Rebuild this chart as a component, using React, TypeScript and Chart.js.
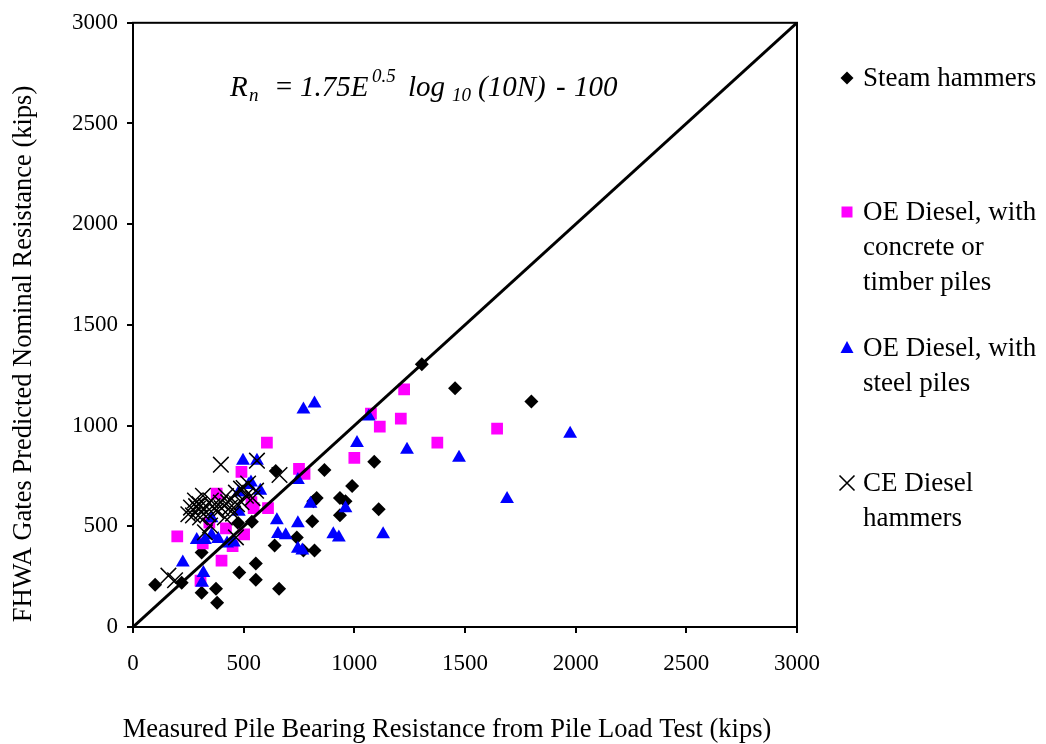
import React, { useEffect, useRef } from 'react';
import { Chart, registerables } from 'chart.js';

Chart.register(...registerables);

// ---------- data (kips) ----------
const steamHammers: [number, number][] = [
  [100, 210], [220, 220], [310, 170], [375, 190], [380, 120], [480, 270], [555, 315], [555, 235],
  [660, 190], [310, 370], [475, 517], [537, 523], [640, 405], [740, 445], [770, 380], [820, 380],
  [645, 775], [810, 525], [815, 625], [830, 640], [865, 780], [935, 640], [935, 555], [960, 625],
  [990, 700], [1090, 820], [1110, 585], [1305, 1305], [1455, 1185], [1800, 1120],
];

const oeDieselConcrete: [number, number][] = [
  [200, 450], [305, 230], [315, 415], [345, 518], [378, 662], [400, 330], [420, 490], [450, 402],
  [490, 770], [502, 460], [535, 620], [545, 590], [605, 915], [610, 590], [750, 785], [775, 760],
  [1000, 840], [1075, 1060], [1115, 995], [1210, 1035], [1225, 1180], [1375, 915], [1645, 985],
];

const oeDieselSteel: [number, number][] = [
  [225, 320], [312, 220], [318, 268], [288, 432], [325, 432], [355, 455], [355, 540], [385, 437],
  [425, 415], [455, 420], [478, 572], [478, 668], [497, 826], [522, 705], [533, 717], [560, 826],
  [575, 677], [650, 530], [655, 462], [690, 455], [745, 515], [745, 730], [745, 388], [765, 380],
  [770, 1080], [820, 1110], [802, 612], [905, 460], [930, 445], [960, 590], [1012, 914],
  [1065, 1045], [1130, 460], [1238, 880], [1473, 840], [1690, 635], [1975, 960],
];

const ceDiesel: [number, number][] = [
  [160, 255], [190, 232], [262, 593], [271, 554], [280, 628], [294, 588], [303, 544], [316, 652],
  [325, 470], [348, 504], [352, 628], [375, 578], [397, 618], [415, 544], [438, 593], [452, 563],
  [465, 667], [465, 445], [488, 687], [510, 652], [520, 712], [556, 677], [397, 806], [560, 826],
  [662, 755], [300, 610], [330, 600], [420, 650], [490, 620], [540, 640], [250, 560], [285, 600],
  [310, 570], [340, 560], [360, 600], [400, 590], [430, 620], [470, 610], [500, 690],
];

const unityLine: [number, number][] = [[0, 0], [3000, 3000]];

const axisMin = 0;
const axisMax = 3000;
const axisStep = 500;

const xTitle = 'Measured Pile Bearing Resistance from Pile Load Test (kips)';
const yTitle = 'FHWA Gates Predicted Nominal Resistance (kips)';

const legendLabels: string[][] = [
  ['Steam hammers'],
  ['OE Diesel, with', 'concrete or', 'timber piles'],
  ['OE Diesel, with', 'steel piles'],
  ['CE Diesel', 'hammers'],
];

// equation pieces: [text, kind, x position]
const equationPieces: [string, string, number][] = [
  ['R', 'm', 230], ['n', 'sub', 249], ['=', 'm', 274], ['1.75E', 'm', 300], ['0.5', 'sup', 372],
  ['log', 'm', 408], ['10', 'sub', 452], ['(10N)', 'm', 478], ['-', 'm', 556], ['100', 'm', 574],
];

const SERIF = '"Liberation Serif", "Times New Roman", serif';

const toPts = (a: [number, number][]) => a.map(([x, y]) => ({ x, y }));

function drawMarker(ctx: CanvasRenderingContext2D, kind: string, x: number, y: number, color: string) {
  ctx.save();
  ctx.fillStyle = color;
  ctx.strokeStyle = color;
  ctx.beginPath();
  if (kind === 'diamond') {
    const r = 6.5;
    ctx.moveTo(x, y - r); ctx.lineTo(x + r, y); ctx.lineTo(x, y + r); ctx.lineTo(x - r, y);
    ctx.closePath(); ctx.fill();
  } else if (kind === 'square') {
    ctx.rect(x - 5.5, y - 5.5, 11, 11); ctx.fill();
  } else if (kind === 'triangle') {
    ctx.moveTo(x, y - 7); ctx.lineTo(x + 6.5, y + 5); ctx.lineTo(x - 6.5, y + 5);
    ctx.closePath(); ctx.fill();
  } else {
    const r = 7.5;
    ctx.lineWidth = 1.6;
    ctx.moveTo(x - r, y - r); ctx.lineTo(x + r, y + r);
    ctx.moveTo(x + r, y - r); ctx.lineTo(x - r, y + r);
    ctx.stroke();
  }
  ctx.restore();
}

const overlayPlugin = {
  id: 'overlay',
  afterDraw(chart: any) {
    const ctx: CanvasRenderingContext2D = chart.ctx;
    const { left, right, top, bottom } = chart.chartArea;
    ctx.save();
    ctx.strokeStyle = '#000';
    ctx.lineWidth = 2;
    ctx.strokeRect(left, top, right - left, bottom - top);

    ctx.fillStyle = '#000';
    ctx.textBaseline = 'alphabetic';
    ctx.font = `26.5px ${SERIF}`;
    ctx.textAlign = 'center';
    ctx.fillText(xTitle, 447, 737);
    ctx.save();
    ctx.translate(31, 354);
    ctx.rotate(-Math.PI / 2);
    ctx.fillText(yTitle, 0, 0);
    ctx.restore();

    // equation
    ctx.textAlign = 'left';
    const eb = 96;
    for (const [txt, kind, px] of equationPieces) {
      if (kind === 'm') {
        ctx.font = `italic 29px ${SERIF}`;
        ctx.fillText(txt, px, eb);
      } else if (kind === 'sub') {
        ctx.font = `italic 19px ${SERIF}`;
        ctx.fillText(txt, px, eb + 5);
      } else {
        ctx.font = `italic 19px ${SERIF}`;
        ctx.fillText(txt, px, eb - 14);
      }
    }

    // legend
    const markers = ['diamond', 'square', 'triangle', 'cross'];
    const colors = ['#000000', '#FF00FF', '#0000FF', '#000000'];
    const markerY = [78, 212, 348, 483];
    ctx.font = `27px ${SERIF}`;
    legendLabels.forEach((lines, i) => {
      drawMarker(ctx, markers[i], 847, markerY[i], colors[i]);
      lines.forEach((ln, j) => {
        ctx.fillStyle = '#000';
        ctx.fillText(ln, 863, markerY[i] + 8 + j * 35);
      });
    });
    ctx.restore();
  },
};

export default function App() {
  const ref = useRef<HTMLCanvasElement | null>(null);

  useEffect(() => {
    if (!ref.current) return;
    const tickFont = { family: SERIF, size: 23 };
    const plain = (v: any) => String(v);
    const chart = new Chart(ref.current, {
      type: 'scatter',
      data: {
        datasets: [
          {
            label: 'unity',
            data: toPts(unityLine),
            showLine: true,
            borderColor: '#000',
            borderWidth: 3,
            pointRadius: 0,
            order: 0,
          } as any,
          {
            label: 'Steam hammers',
            data: toPts(steamHammers),
            pointStyle: 'rectRot',
            pointRadius: 7,
            backgroundColor: '#000000',
            borderColor: '#000000',
            borderWidth: 0,
            order: 4,
          },
          {
            label: 'OE Diesel, with concrete or timber piles',
            data: toPts(oeDieselConcrete),
            pointStyle: 'rect',
            pointRadius: 8.3,
            backgroundColor: '#FF00FF',
            borderColor: '#FF00FF',
            borderWidth: 0,
            order: 3,
          },
          {
            label: 'OE Diesel, with steel piles',
            data: toPts(oeDieselSteel),
            pointStyle: 'triangle',
            pointRadius: 8,
            backgroundColor: '#0000FF',
            borderColor: '#0000FF',
            borderWidth: 0,
            order: 2,
          },
          {
            label: 'CE Diesel hammers',
            data: toPts(ceDiesel),
            pointStyle: 'crossRot',
            pointRadius: 11,
            backgroundColor: '#000000',
            borderColor: '#000000',
            borderWidth: 1.5,
            order: 1,
          },
        ],
      },
      options: {
        responsive: false,
        animation: false,
        layout: { padding: { left: 0, top: 20, right: 249, bottom: 0 } },
        plugins: { legend: { display: false }, tooltip: { enabled: false } },
        scales: {
          x: {
            type: 'linear',
            min: axisMin,
            max: axisMax,
            ticks: { stepSize: axisStep, color: '#000', font: tickFont, padding: 17, maxRotation: 0, callback: plain },
            grid: { drawOnChartArea: false, drawTicks: true, tickLength: 6, color: '#000', lineWidth: 2 },
            border: { display: true, color: '#000', width: 2 },
            afterFit: (s: any) => { s.height = 117; },
          },
          y: {
            type: 'linear',
            min: axisMin,
            max: axisMax,
            ticks: { stepSize: axisStep, color: '#000', font: tickFont, padding: 9, callback: plain },
            grid: { drawOnChartArea: false, drawTicks: true, tickLength: 6, color: '#000', lineWidth: 2 },
            border: { display: true, color: '#000', width: 2 },
            afterFit: (s: any) => { s.width = 133; },
          },
        },
      },
      plugins: [overlayPlugin],
    });
    return () => chart.destroy();
  }, []);

  return (
    <div style={{ position: 'fixed', left: 0, top: 0, width: 1046, height: 744, background: '#fff' }}>
      <canvas ref={ref} width={1046} height={744} style={{ display: 'block' }} />
    </div>
  );
}
